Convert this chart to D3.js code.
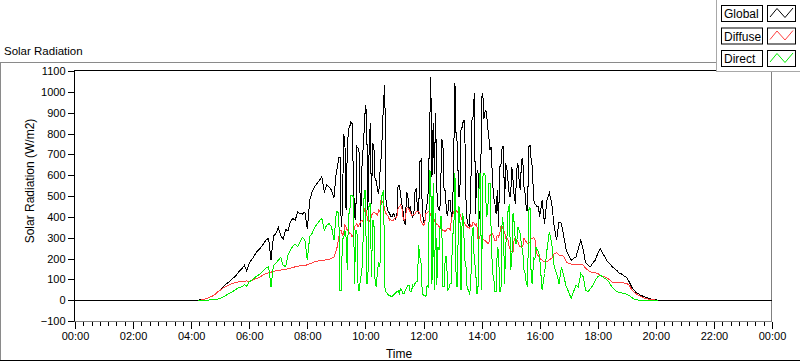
<!DOCTYPE html>
<html>
<head>
<meta charset="utf-8">
<script src="https://cdnjs.cloudflare.com/ajax/libs/d3/7.8.5/d3.min.js"></script>
<style>
  body { margin: 0; background: #fff; }
  svg { display: block; font-family: "Liberation Sans", Arial, sans-serif; }
</style>
</head>
<body>
<div id="chart"></div>
<script>
// series shown in the legend, drawn in this order (Direct ends up on top)
const seriesNames = ["Global", "Diffuse", "Direct"];
const seriesColors = ["#000000", "#ff4040", "#00ee00"];

// samples every 5 minutes, from 04:15 to 20:05
const firstSampleMinute = 255;
const sampleStep = 5;

const globalValues = [
  0, 2, 3, 6, 10, 16, 21, 29, 40, 48,
  61, 72, 83, 91, 104, 112, 125, 141, 152, 168,
  140, 179, 195, 211, 232, 243, 256, 272, 291, 296,
  192, 307, 320, 349, 312, 291, 339, 333, 376, 392,
  384, 424, 416, 413, 424, 341, 480, 520, 544, 560,
  576, 592, 520, 552, 544, 528, 490, 620,
  685, 352, 792, 432, 824, 856, 608, 384, 728, 352, 720, 936,
  432, 848, 752, 576, 528, 608, 800, 1032, 440, 416, 400, 408, 400, 552,
  464, 376, 520, 432, 416, 408, 536, 416, 675, 376, 432, 528, 1069, 848,
  896, 448, 464, 760, 528, 408, 480, 400, 1040, 760, 496, 832, 864, 384, 352,
  864, 992, 608, 400, 976, 872, 904, 784, 736, 496, 416, 352, 648, 736,
  656, 560, 496, 576, 464, 656, 528, 680, 512, 432, 744, 640, 464, 448,
  400, 480, 368, 480, 515, 464, 352, 288, 376, 368,
  304, 240, 216, 192, 200, 208, 248, 288, 240, 179,
  168, 160, 179, 192, 224, 248, 224, 208, 184, 176,
  160, 152, 141, 128, 125, 115, 109, 88, 64, 48,
  35, 29, 22, 18, 13, 8, 5, 3, 2, 0
];

const diffuseValues = [
  0, 0, 3, 6, 11, 16, 21, 29, 40, 48,
  56, 64, 70, 75, 80, 83, 86, 90, 91, 91,
  93, 88, 93, 99, 104, 109, 115, 123, 128, 131,
  134, 139, 141, 142, 144, 147, 149, 150, 154, 157,
  160, 163, 165, 166, 166, 170, 176, 179, 184, 187,
  190, 192, 192, 195, 197, 200, 208, 240,
  304, 336, 320, 352, 328, 320, 312, 360, 352, 376, 376, 448,
  384, 376, 416, 419, 408, 424, 472, 432, 408, 384, 381, 392, 400, 448,
  448, 384, 440, 435, 408, 413, 424, 424, 376, 360, 416, 424, 408, 400,
  368, 360, 344, 336, 328, 344, 336, 408, 432, 424, 416, 384, 368, 352, 344,
  352, 368, 368, 296, 304, 288, 280, 272, 320, 304, 288, 304, 352, 336,
  296, 288, 240, 232, 288, 280, 256, 256, 288, 272, 280, 296, 296, 216,
  200, 192, 184, 184, 195, 200, 224, 227, 216, 216,
  208, 184, 176, 173, 171, 173, 171, 171, 168, 152,
  144, 136, 133, 131, 128, 120, 115, 112, 104, 99,
  85, 86, 85, 83, 85, 82, 80, 72, 51, 40,
  29, 22, 16, 11, 8, 5, 3, 2, 0, 0
];

const directValues = [
  0, 0, 0, 0, 0, 2, 2, 3, 5, 8,
  14, 21, 27, 35, 40, 48, 56, 61, 64, 75,
  67, 88, 96, 104, 115, 122, 131, 144, 154, 160,
  64, 168, 176, 192, 205, 168, 160, 216, 240, 259,
  269, 256, 280, 301, 288, 192, 307, 320, 349, 365,
  381, 392, 336, 360, 368, 352, 288, 424,
  416, 48, 296, 304, 416, 504, 496, 336, 48, 112, 272, 528,
  80, 464, 384, 80, 144, 160, 504, 64, 32, 24, 16, 29, 40, 32,
  48, 32, 56, 72, 40, 64, 88, 264, 176, 24, 16, 64, 608, 560,
  416, 256, 400, 64, 208, 48, 80, 320, 608, 64, 440, 416, 192, 64, 32,
  304, 176, 32, 608, 48, 608, 400, 560, 304, 112, 40, 240, 40, 368,
  272, 448, 144, 416, 272, 352, 320, 240, 128, 64, 448, 80, 192, 240,
  208, 48, 128, 240, 328, 272, 160, 128, 80, 160,
  112, 64, 40, 8, 40, 72, 64, 128, 112, 48,
  40, 56, 72, 96, 112, 120, 112, 104, 96, 80,
  61, 51, 40, 38, 35, 32, 29, 22, 13, 6,
  2, 0, 0, 0, 0, 0, 0, 0, 0, 0
];

// the cloudy middle of the day is read at 2.5 minutes: these are the
// in-between samples, 09:02:30 to 15:57:30
const firstMidMinute = 542.5;

const midGlobalValues = [
  640, 688, 432, 784, 720, 832, 848, 400, 736, 704, 624, 816, 896, 704, 464, 736, 576, 512, 688, 960, 480, 424, 400, 416, 392, 552,
  512, 432, 360, 504, 448, 400, 520, 432, 664, 432, 368, 464, 800, 592, 608, 528, 432, 768, 528, 416, 480, 400, 704, 768, 496, 816, 864, 496, 360,
  496, 880, 416, 624, 384, 992, 912, 832, 720, 576, 464, 528, 640, 736, 464, 624, 496, 640, 496, 624, 576, 672, 544, 432, 736, 672, 480, 456,
  448
];

const midDiffuseValues = [
  264, 336, 312, 360, 336, 320, 304, 352, 368, 365, 384, 432, 416, 384, 408, 424, 416, 432, 488, 464, 416, 400, 387, 384, 397, 440,
  456, 400, 392, 445, 424, 408, 413, 424, 416, 368, 365, 419, 424, 403, 384, 365, 352, 339, 333, 339, 344, 384, 424, 429, 419, 400, 376, 360, 349,
  360, 376, 360, 296, 312, 296, 285, 272, 312, 320, 288, 312, 320, 352, 328, 296, 248, 232, 296, 288, 264, 256, 296, 280, 272, 296, 301, 240,
  216
];

const midDirectValues = [
  424, 48, 296, 336, 144, 416, 504, 80, 336, 48, 128, 528, 80, 464, 112, 384, 64, 176, 496, 528, 40, 24, 19, 24, 35, 45,
  56, 32, 48, 72, 40, 72, 80, 88, 208, 32, 24, 72, 624, 80, 48, 72, 240, 400, 64, 208, 56, 80, 320, 64, 448, 48, 400, 176, 48,
  64, 352, 160, 32, 608, 592, 600, 416, 560, 128, 40, 256, 40, 400, 80, 304, 456, 192, 368, 272, 336, 256, 144, 80, 432, 96, 208, 256,
  232
];

const xTickLabels = ["00:00", "02:00", "04:00", "06:00", "08:00", "10:00", "12:00",
  "14:00", "16:00", "18:00", "20:00", "22:00", "00:00"];
const yTickValues = [-100, 0, 100, 200, 300, 400, 500, 600, 700, 800, 900, 1000, 1100];

const width = 800, height = 361;
const plot = { left: 75, right: 772, top: 71, bottom: 321 };

const svg = d3.select('#chart').append('svg')
  .attr('width', width)
  .attr('height', height);

const x = d3.scaleLinear().domain([0, 1440]).range([plot.left, plot.right]);
const y = d3.scaleLinear().domain([-100, 1100]).range([plot.bottom, plot.top]);

// turn value arrays into sorted {t, v} points
const toPoints = (vals, start, step) => vals.map((v, i) => ({ t: start + i * step, v: v }));
const merge = (vals, midVals) => toPoints(vals, firstSampleMinute, sampleStep)
  .concat(toPoints(midVals, firstMidMinute, sampleStep))
  .sort((a, b) => a.t - b.t);

// global is logged for the full day, zero at night
const globalPoints = [{ t: 0, v: 0 }].concat(merge(globalValues, midGlobalValues), [{ t: 1440, v: 0 }]);
const allSeries = [
  globalPoints,
  merge(diffuseValues, midDiffuseValues),
  merge(directValues, midDirectValues)
];

// outer frame of the graph
svg.append('line').attr('x1', 0.5).attr('x2', 0.5).attr('y1', 62).attr('y2', 361)
  .attr('stroke', '#8a8a8a');
svg.append('line').attr('x1', 0).attr('x2', 717).attr('y1', 62.5).attr('y2', 62.5)
  .attr('stroke', '#8a8a8a');
svg.append('line').attr('x1', 0).attr('x2', 800).attr('y1', 360.5).attr('y2', 360.5)
  .attr('stroke', '#000');

svg.append('text')
  .attr('x', 4).attr('y', 55)
  .attr('font-size', '11.5px')
  .text('Solar Radiation');

// plot borders
svg.append('line').attr('x1', 74.5).attr('x2', plot.right).attr('y1', 70.5).attr('y2', 70.5)
  .attr('stroke', '#000');
svg.append('line').attr('x1', plot.right - 0.5).attr('x2', plot.right - 0.5).attr('y1', 70).attr('y2', 322)
  .attr('stroke', '#808080');

// data lines
svg.append('clipPath').attr('id', 'clip')
  .append('rect')
  .attr('x', plot.left).attr('y', 70)
  .attr('width', plot.right - plot.left).attr('height', 252);

const line = d3.line().x(d => x(d.t)).y(d => y(d.v));

svg.append('g').attr('clip-path', 'url(#clip)')
  .selectAll('path')
  .data(allSeries)
  .enter()
  .append('path')
  .attr('d', line)
  .attr('fill', 'none')
  .attr('stroke', (d, i) => seriesColors[i])
  .attr('stroke-width', 1)
  .attr('shape-rendering', 'crispEdges');

// y axis
const yAxis = svg.append('g')
  .attr('transform', 'translate(74.5,0)')
  .call(d3.axisLeft(y).tickValues(yTickValues).tickSize(7).tickPadding(2).tickFormat(d3.format('d')));
yAxis.select('.domain').remove();
yAxis.selectAll('line').attr('stroke', '#000').attr('shape-rendering', 'crispEdges');
yAxis.selectAll('text').attr('font-size', '11px').attr('fill', '#000')
  .attr('font-family', '"Liberation Sans", Arial, sans-serif');
svg.append('line').attr('x1', 74.5).attr('x2', 74.5).attr('y1', 70).attr('y2', 322)
  .attr('stroke', '#000');

// x axis, majors every 2 hours and 6 minor ticks between
const majorMinutes = xTickLabels.map((d, i) => i * 120);
const minorMinutes = [];
majorMinutes.slice(0, -1).forEach(m => {
  for (let k = 1; k < 7; k++) minorMinutes.push(m + k * 120 / 7);
});

const xAxis = svg.append('g')
  .attr('transform', `translate(0,${plot.bottom + 0.5})`)
  .call(d3.axisBottom(x).tickValues(majorMinutes).tickSize(7).tickPadding(4)
    .tickFormat((d, i) => xTickLabels[i]));
xAxis.select('.domain').remove();
xAxis.selectAll('line').attr('stroke', '#000').attr('shape-rendering', 'crispEdges');
xAxis.selectAll('text').attr('font-size', '11px').attr('fill', '#000')
  .attr('font-family', '"Liberation Sans", Arial, sans-serif');

const xMinor = svg.append('g')
  .attr('transform', `translate(0,${plot.bottom + 0.5})`)
  .call(d3.axisBottom(x).tickValues(minorMinutes).tickSize(4).tickFormat(''));
xMinor.select('.domain').remove();
xMinor.selectAll('line').attr('stroke', '#000').attr('shape-rendering', 'crispEdges');

svg.append('line').attr('x1', 74.5).attr('x2', plot.right).attr('y1', plot.bottom + 0.5).attr('y2', plot.bottom + 0.5)
  .attr('stroke', '#808080');

// axis titles
svg.append('text')
  .attr('transform', 'translate(34,181) rotate(-90)')
  .attr('text-anchor', 'middle')
  .attr('font-size', '12px')
  .text('Solar Radiation (W/m2)');

svg.append('text')
  .attr('x', 399).attr('y', 358)
  .attr('text-anchor', 'middle')
  .attr('font-size', '12px')
  .text('Time');

// legend panel in the top right corner
const legend = svg.append('g');
legend.append('rect')
  .attr('x', 716.5).attr('y', -1).attr('width', 90).attr('height', 72.5)
  .attr('fill', '#fff').attr('stroke', '#a8a8a8');

const rows = legend.selectAll('g.row')
  .data(seriesNames)
  .enter()
  .append('g')
  .attr('class', 'row')
  .attr('transform', (d, i) => `translate(0,${5 + i * 22.5})`);

rows.append('rect')
  .attr('x', 721.5).attr('y', 0.5).attr('width', 41).attr('height', 16)
  .attr('fill', '#fff').attr('stroke', '#000');
rows.append('text')
  .attr('x', 724).attr('y', 13)
  .attr('font-size', '12px')
  .text(d => d);
rows.append('rect')
  .attr('x', 767.5).attr('y', 0.5).attr('width', 28).attr('height', 16)
  .attr('fill', '#fff').attr('stroke', '#000');
rows.append('polyline')
  .attr('points', '770,12 777,3.5 785,12.5 793,3')
  .attr('fill', 'none')
  .attr('stroke', (d, i) => seriesColors[i]);
</script>
</body>
</html>
